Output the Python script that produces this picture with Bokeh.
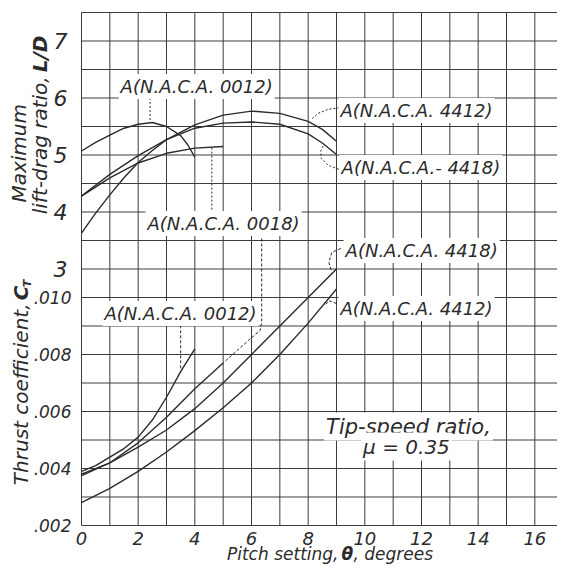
import math
from bokeh.plotting import figure
from bokeh.models import Range1d, FixedTicker, CustomJSTickFormatter, Label, LinearAxis
from bokeh.embed import file_html
from bokeh.resources import INLINE

# ---------------- data ----------------
# Upper panel: maximum lift-drag ratio L/D vs pitch setting (deg)
theta_ld_0012 = [0, 0.5, 1, 1.5, 2, 2.5, 3, 3.5, 3.75, 4]
ld_0012 = [5.07, 5.22, 5.35, 5.47, 5.54, 5.57, 5.50, 5.34, 5.18, 4.96]
theta_ld_0018 = [0, 1, 2, 3, 4, 5]
ld_0018 = [4.28, 4.60, 4.86, 5.03, 5.12, 5.15]
theta_ld_4412 = [0, 0.5, 1, 1.5, 2, 2.5, 3, 4, 5, 6, 7, 8, 8.5, 9]
ld_4412 = [3.63, 3.98, 4.30, 4.60, 4.87, 5.08, 5.27, 5.53, 5.70, 5.77, 5.73, 5.59, 5.45, 5.24]
theta_ld_4418 = [0, 1, 2, 3, 4, 5, 6, 7, 8, 8.5, 9]
ld_4418 = [4.28, 4.66, 4.99, 5.27, 5.47, 5.56, 5.58, 5.54, 5.37, 5.21, 5.01]

# Lower panel: thrust coefficient C_T vs pitch setting (deg)
theta_ct_long = [0, 1, 2, 3, 4, 5, 6, 7, 8, 9]
ct_4412 = [0.0028, 0.0033, 0.0039, 0.00458, 0.00533, 0.00613, 0.0070, 0.0080, 0.0091, 0.0103]
ct_4418 = [0.00375, 0.0042, 0.00475, 0.00535, 0.0061, 0.0070, 0.0080, 0.0090, 0.0100, 0.0110]
theta_ct_0012 = [0, 0.5, 1, 1.5, 2, 2.5, 3, 3.5, 4]
ct_0012 = [0.0039, 0.0041, 0.0044, 0.0047, 0.0051, 0.0057, 0.0065, 0.0074, 0.0082]
theta_ct_0018 = [0, 1, 2, 3, 4, 5]
ct_0018 = [0.0038, 0.0042, 0.0049, 0.0058, 0.0068, 0.0077]

# Tick labels
x_ticks = [0, 2, 4, 6, 8, 10, 12, 14, 16]
ld_ticks = [3, 4, 5, 6, 7]
ld_tick_labels = ["3", "4", "5", "6", "7"]
ct_ticks = [0.002, 0.004, 0.006, 0.008, 0.010]
ct_tick_labels = [".002", ".004", ".006", ".008", ".010"]

# Leader lines (annotation)
lead_u0012 = ([2.42, 2.42], [6.0, 5.58])
lead_u0018 = ([4.6, 4.6], [5.13, 3.98])
lead_u4412 = ([9.1, 8.7, 8.35, 8.1], [5.83, 5.80, 5.73, 5.62])
lead_u4418 = ([9.08, 8.7, 8.45, 8.45, 8.55], [4.75, 4.82, 4.95, 5.08, 5.18])
lead_l0018 = ([6.36, 6.36, 6.3, 5.9, 5.02], [0.01207, 0.00912, 0.00884, 0.0085, 0.00772])
lead_l4418 = ([9.15, 8.83, 8.73, 8.83], [0.01172, 0.01158, 0.01123, 0.01091])
lead_l4412 = ([9.0, 8.73, 8.59], [0.00979, 0.00989, 0.00972])
lead_l0012 = ([3.5, 3.5], [0.0092, 0.0075])

# ---------------- layout constants ----------------
W, H = 557, 565
X_LO, X_HI = 0.0, 16.8          # data area in degrees
LD_LO, LD_HI = -1.5, 7.5        # data area in L/D
CT_LO, CT_HI = 0.002, 0.020     # same vertical span in C_T
FRAME_L, FRAME_T = 81, 12       # pixel position of the data area
PX_PER_X = (W - FRAME_L) / (X_HI - X_LO)
PX_PER_LD = 513 / (LD_HI - LD_LO)

x_start = X_LO - FRAME_L / PX_PER_X
x_end = X_HI
ld_end = LD_HI + FRAME_T / PX_PER_LD
ld_start = ld_end - H / PX_PER_LD

def ld_to_ct(v):
    return CT_LO + (v - LD_LO) / (LD_HI - LD_LO) * (CT_HI - CT_LO)

p = figure(width=W, height=H, output_backend="svg", toolbar_location=None,
           x_range=Range1d(x_start, x_end), y_range=Range1d(ld_start, ld_end),
           min_border=0, min_border_left=0, min_border_right=0,
           min_border_top=0, min_border_bottom=0,
           background_fill_color="white", border_fill_color="white",
           x_axis_location=None, y_axis_location=None)
p.extra_y_ranges = {"ct": Range1d(ld_to_ct(ld_start), ld_to_ct(ld_end))}
p.outline_line_color = None
p.xgrid.visible = False
p.ygrid.visible = False

FONT = "DejaVu Sans"
INK = "#2b2b2b"
GRID = "#3c3c3c"

# grid (drawn only over the data area)
gx = list(range(0, 17))
gy = [LD_LO + 0.5 * i for i in range(19)]
p.segment(x0=gx, y0=[LD_LO] * len(gx), x1=gx, y1=[LD_HI] * len(gx),
          line_color=GRID, line_width=1)
p.segment(x0=[X_LO] * len(gy), y0=gy, x1=[X_HI] * len(gy), y1=gy,
          line_color=GRID, line_width=1)

def style_axis(ax, size, standoff):
    ax.axis_line_color = None
    ax.major_tick_line_color = None
    ax.minor_tick_line_color = None
    ax.major_label_standoff = standoff
    ax.major_label_text_font = FONT
    ax.major_label_text_font_style = "italic"
    ax.major_label_text_font_size = size
    ax.major_label_text_color = INK

# x axis pinned at the bottom of the data area
xa = LinearAxis(ticker=FixedTicker(ticks=x_ticks), fixed_location=LD_LO)
style_axis(xa, "18px", 0)
p.add_layout(xa, "below")

# L/D axis pinned at theta = 0
ya1 = LinearAxis(ticker=FixedTicker(ticks=ld_ticks), fixed_location=0,
                 formatter=CustomJSTickFormatter(args=dict(vals=ld_ticks, labs=ld_tick_labels), code="""
for (let i = 0; i < vals.length; i++) { if (Math.abs(vals[i] - tick) < 1e-9) return labs[i]; }
return "";
"""))
style_axis(ya1, "22px", 8)
p.add_layout(ya1, "left")

# C_T axis pinned at theta = 0
ya2 = LinearAxis(y_range_name="ct", ticker=FixedTicker(ticks=ct_ticks), fixed_location=0,
                 formatter=CustomJSTickFormatter(args=dict(vals=ct_ticks, labs=ct_tick_labels), code="""
for (let i = 0; i < vals.length; i++) { if (Math.abs(vals[i] - tick) < 1e-9) return labs[i]; }
return "";
"""))
style_axis(ya2, "17px", 4)
p.add_layout(ya2, "left")

# curves
LW = 1.4
p.line(theta_ld_0012, ld_0012, line_color=INK, line_width=LW)
p.line(theta_ld_0018, ld_0018, line_color=INK, line_width=LW)
p.line(theta_ld_4412, ld_4412, line_color=INK, line_width=LW)
p.line(theta_ld_4418, ld_4418, line_color=INK, line_width=LW)
p.line(theta_ct_long, ct_4412, line_color=INK, line_width=LW, y_range_name="ct")
p.line(theta_ct_long, ct_4418, line_color=INK, line_width=LW, y_range_name="ct")
p.line(theta_ct_0012, ct_0012, line_color=INK, line_width=LW, y_range_name="ct")
p.line(theta_ct_0018, ct_0018, line_color=INK, line_width=LW, y_range_name="ct")

# leaders
for xs, ys in (lead_u0012, lead_u0018, lead_u4412, lead_u4418):
    p.line(xs, ys, line_color=INK, line_width=1, line_dash="2 2")
for xs, ys in (lead_l0018, lead_l4418, lead_l4412, lead_l0012):
    p.line(xs, ys, line_color=INK, line_width=1, line_dash="3 2", y_range_name="ct")

def lab(text, x, y, size="18px", align="left", baseline="middle", style="italic",
        angle=0.0, rng="default", bg=True):
    kw = dict(x=x, y=y, text=text, text_font=FONT, text_font_style=style,
              text_font_size=size, text_color=INK, text_align=align,
              text_baseline=baseline, angle=angle)
    if rng != "default":
        kw["y_range_name"] = rng
    if bg:
        kw["background_fill_color"] = "white"
        kw["padding"] = 2
    p.add_layout(Label(**kw))

# curve labels
lab("A(N.A.C.A. 0012)", 1.31, 6.20)
lab("A(N.A.C.A. 0018)", 2.26, 3.80)
lab("A(N.A.C.A. 4412)", 9.07, 5.78)
lab("A(N.A.C.A.- 4418)", 9.11, 4.78)
lab("A(N.A.C.A. 4418)", 9.25, 0.01165, rng="ct")
lab("A(N.A.C.A. 4412)", 9.07, 0.00961, rng="ct")
lab("A(N.A.C.A. 0012)", 0.74, 0.00944, rng="ct")
lab("Tip-speed ratio,", 11.54, 0.00547, size="21px", align="center", rng="ct")
lab("\u03bc = 0.35", 11.47, 0.00477, size="20px", align="center", rng="ct")

# axis titles (in the margin around the data area)
R = math.pi / 2
lab("Maximum", -2.19, 5.03, size="20px", align="center", angle=R, bg=False)
lab("lift-drag ratio,", -1.45, 6.38, size="20px", align="right", angle=R, bg=False)
lab("L/D", -1.45, 6.45, size="20px", align="left", angle=R, style="bold italic", bg=False)
lab("Thrust coefficient,", -2.12, 2.395, size="20px", align="right", angle=R, bg=False)
lab("C", -2.12, 2.45, size="20px", align="left", angle=R, style="bold italic", bg=False)
lab("T", -1.90, 2.68, size="11px", align="left", angle=R, style="bold italic", bg=False)
XT_Y = 7.5 - (553 - 12) / 57.0
lab("Pitch setting,", 9.07, XT_Y, size="17px", align="right", bg=False)
lab("\u03b8", 9.38, XT_Y, size="17px", align="center", style="bold italic", bg=False)
lab(", degrees", 9.60, XT_Y, size="17px", align="left", bg=False)

open("out.html", "w").write(file_html(p, INLINE))
